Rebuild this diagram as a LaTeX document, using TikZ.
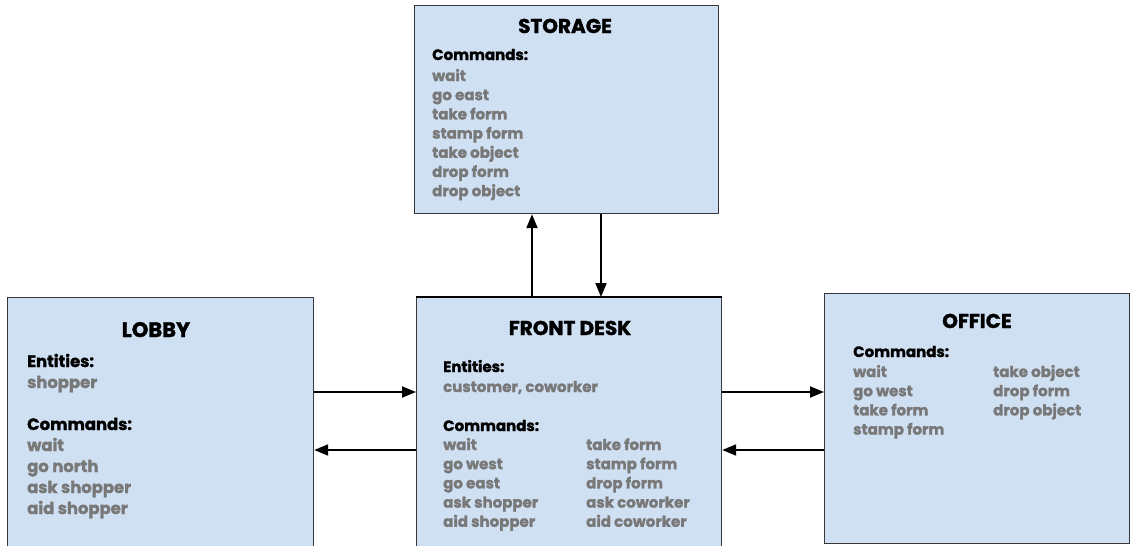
\documentclass[tikz,border=0pt]{standalone}
\usepackage{fontspec}
\setmainfont{Poppins}[BoldFeatures={FakeBold=1.6}]
\usetikzlibrary{arrows.meta}
\definecolor{roomfill}{RGB}{207,224,243}
\definecolor{roomedge}{RGB}{55,55,55}
\definecolor{itemgray}{RGB}{120,120,120}
\begin{document}
\begin{tikzpicture}[x=1pt,y=-1pt,
  room/.style={rectangle, draw=roomedge, line width=1.2pt, fill=roomfill, inner sep=0pt, anchor=north west},
  roomtitle/.style={font=\bfseries\fontsize{20}{20}\selectfont, anchor=base, inner sep=0pt, text=black},
  head/.style={font=\bfseries\fontsize{15}{15}\selectfont, anchor=base west, inner sep=0pt, text=black},
  item/.style={font=\bfseries\fontsize{15}{15}\selectfont, anchor=base west, inner sep=0pt, text=itemgray},
  bighead/.style={head, font=\bfseries\fontsize{16.4}{16.4}\selectfont},
  bigitem/.style={item, font=\bfseries\fontsize{16.4}{16.4}\selectfont},
  link/.style={-{Triangle[length=14pt,width=11pt]}, line width=2pt, draw=black}]
\fill[white] (0,0) rectangle (1133,546);
\clip (0,0) rectangle (1133,546);

% rooms
\node[room, minimum width=304pt, minimum height=208pt] (storage) at (414,5) {};
\node[room, minimum width=305pt, minimum height=262pt] (front) at (416,297) {};
\node[room, minimum width=306pt, minimum height=262pt] (lobby) at (7,297) {};
\node[room, minimum width=305pt, minimum height=250pt] (office) at (824,293) {};
\draw[line width=2pt, black] (front.north west) -- (front.north east);

% storage
\node[roomtitle] (storagetitle) at (565,33) {STORAGE};
\node[head] (storagecmd) at (432,60) {Commands:};
\foreach \t [count=\i from 0] in {wait,go east,take form,stamp form,take object,drop form,drop object}
  \node[item] (storage-\i) at (432,81+19.2*\i) {\t};

% front desk
\node[roomtitle] (fronttitle) at (570,335) {FRONT DESK};
\node[head] (frontent) at (443,372) {Entities:};
\node[item] (frontentlist) at (443,392) {customer, coworker};
\node[head] (frontcmd) at (443,431) {Commands:};
\foreach \t [count=\i from 0] in {wait,go west,go east,ask shopper,aid shopper}
  \node[item] (fronta-\i) at (443,450+19.2*\i) {\t};
\foreach \t [count=\i from 0] in {take form,stamp form,drop form,ask coworker,aid coworker}
  \node[item] (frontb-\i) at (586,450+19.2*\i) {\t};

% lobby
\node[roomtitle, font=\bfseries\fontsize{21}{21}\selectfont] (lobbytitle) at (156,337) {LOBBY};
\node[bighead] (lobbyent) at (27,367) {Entities:};
\node[bigitem] (lobbyentlist) at (27,388) {shopper};
\node[bighead] (lobbycmd) at (27,430) {Commands:};
\foreach \t [count=\i from 0] in {wait,go north,ask shopper,aid shopper}
  \node[bigitem] (lobby-\i) at (27,451+21*\i) {\t};

% office
\node[roomtitle] (officetitle) at (977,328) {OFFICE};
\node[head] (officecmd) at (853,357) {Commands:};
\foreach \t [count=\i from 0] in {wait,go west,take form,stamp form}
  \node[item] (officea-\i) at (853,377+19.2*\i) {\t};
\foreach \t [count=\i from 0] in {take object,drop form,drop object}
  \node[item] (officeb-\i) at (993,377+19.2*\i) {\t};

% connectors
\path (532,0) coordinate (upx) (601,0) coordinate (downx)
      (0,392) coordinate (eastwardy) (0,450) coordinate (westwardy);
\draw[link] (front.north -| upx) -- (storage.south -| upx);
\draw[link] (storage.south -| downx) -- (front.north -| downx);
\draw[link] (lobby.east |- eastwardy) -- (front.west |- eastwardy);
\draw[link] (front.west |- westwardy) -- (lobby.east |- westwardy);
\draw[link] (front.east |- eastwardy) -- (office.west |- eastwardy);
\draw[link] (office.west |- westwardy) -- (front.east |- westwardy);
\end{tikzpicture}
\end{document}
